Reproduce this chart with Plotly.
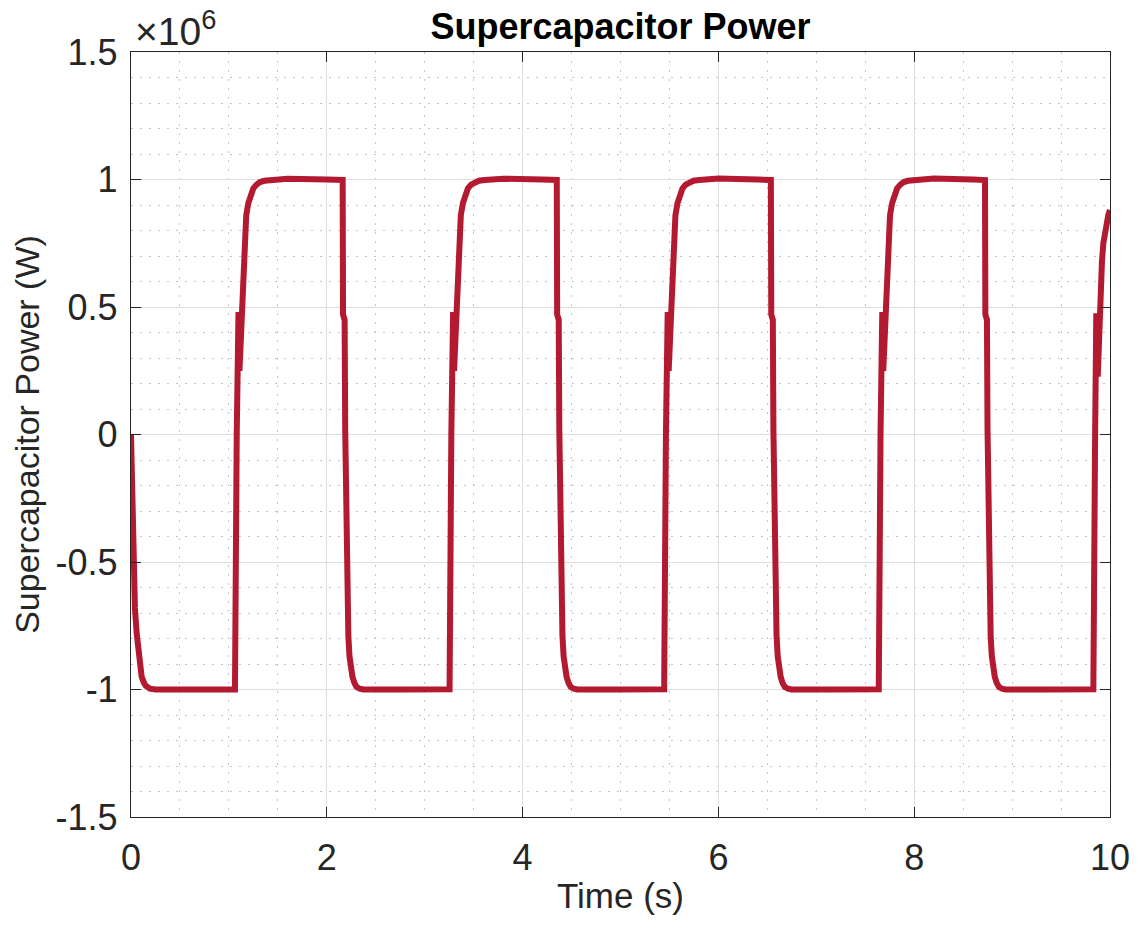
import plotly.graph_objects as go

# ---- data (power in units of 1e6 W) ----
time_s = [
    # start: decay from 0 to -1
    0.000, 0.008, 0.016, 0.024, 0.032, 0.040, 0.058, 0.080, 0.095, 0.109, 0.130, 0.150, 0.194, 0.250, 0.600, 1.000,
    # rise 1
    1.062, 1.080, 1.098, 1.108, 1.122, 1.131, 1.141, 1.147, 1.155, 1.164, 1.177, 1.198, 1.222, 1.249, 1.282, 1.318, 1.362, 1.420, 1.600, 2.000,
    # fall 1
    2.162, 2.166, 2.182, 2.188, 2.195, 2.203, 2.212, 2.220, 2.232, 2.244, 2.262, 2.282, 2.305, 2.337, 2.372, 2.800,
    # rise 2
    3.254, 3.272, 3.290, 3.300, 3.314, 3.323, 3.333, 3.339, 3.347, 3.356, 3.369, 3.390, 3.414, 3.441, 3.474, 3.510, 3.554, 3.612, 3.800, 4.200,
    # fall 2
    4.349, 4.353, 4.369, 4.375, 4.382, 4.390, 4.399, 4.407, 4.419, 4.431, 4.449, 4.469, 4.492, 4.524, 4.559, 5.000,
    # rise 3
    5.446, 5.464, 5.482, 5.492, 5.506, 5.515, 5.525, 5.531, 5.539, 5.548, 5.561, 5.582, 5.606, 5.633, 5.666, 5.702, 5.746, 5.804, 6.000, 6.400,
    # fall 3
    6.536, 6.540, 6.556, 6.562, 6.569, 6.577, 6.586, 6.594, 6.606, 6.618, 6.636, 6.656, 6.679, 6.711, 6.746, 7.200,
    # rise 4
    7.638, 7.656, 7.674, 7.684, 7.698, 7.707, 7.717, 7.723, 7.731, 7.740, 7.753, 7.774, 7.798, 7.825, 7.858, 7.894, 7.938, 7.996, 8.200, 8.600,
    # fall 4
    8.723, 8.727, 8.743, 8.749, 8.756, 8.764, 8.773, 8.781, 8.793, 8.805, 8.823, 8.843, 8.866, 8.898, 8.933, 9.400,
    # rise 5 (cut at 10 s)
    9.830, 9.848, 9.860, 9.875, 9.890, 9.905, 9.918, 9.932, 9.948, 9.966, 9.983, 10.000,
]
power_mw = [
    0.000, -0.200, -0.360, -0.490, -0.600, -0.680, -0.780, -0.880, -0.925, -0.950, -0.972, -0.985, -0.997, -1.000, -1.000, -0.999,
    -1.000, 0.000, 0.480, 0.250, 0.400, 0.500, 0.606, 0.684, 0.750, 0.815, 0.860, 0.907, 0.940, 0.965, 0.980, 0.990, 0.995, 0.998, 1.003, 1.000,
    0.998, 0.470, 0.450, 0.020, -0.250, -0.490, -0.660, -0.790, -0.870, -0.910, -0.950, -0.975, -0.990, -0.997, -1.000, -1.000,
    -0.999, 0.000, 0.480, 0.250, 0.400, 0.500, 0.606, 0.684, 0.750, 0.815, 0.860, 0.907, 0.940, 0.965, 0.980, 0.990, 0.995, 0.998, 1.003, 1.000,
    0.998, 0.470, 0.450, 0.020, -0.250, -0.490, -0.660, -0.790, -0.870, -0.910, -0.950, -0.975, -0.990, -0.997, -1.000, -1.000,
    -0.999, 0.000, 0.480, 0.250, 0.400, 0.500, 0.606, 0.684, 0.750, 0.815, 0.860, 0.907, 0.940, 0.965, 0.980, 0.990, 0.995, 0.998, 1.004, 1.000,
    0.998, 0.470, 0.450, 0.020, -0.250, -0.490, -0.660, -0.790, -0.870, -0.910, -0.950, -0.975, -0.990, -0.997, -1.000, -1.000,
    -0.999, 0.000, 0.480, 0.250, 0.400, 0.500, 0.606, 0.684, 0.750, 0.815, 0.860, 0.907, 0.940, 0.965, 0.980, 0.990, 0.995, 0.998, 1.004, 1.000,
    0.998, 0.470, 0.450, 0.020, -0.250, -0.490, -0.660, -0.790, -0.870, -0.910, -0.950, -0.975, -0.990, -0.997, -1.000, -1.000,
    -0.999, 0.000, 0.475, 0.227, 0.420, 0.593, 0.680, 0.750, 0.800, 0.840, 0.862, 0.880,
]

x_tick_vals = [0, 2, 4, 6, 8, 10]
x_tick_text = ["0", "2", "4", "6", "8", "10"]
y_tick_vals = [-1.5, -1.0, -0.5, 0.0, 0.5, 1.0, 1.5]
y_tick_text = ["-1.5", "-1", "-0.5", "0", "0.5", "1", "1.5"]

FONT = "Liberation Sans, Arial, Helvetica, sans-serif"
TXT = "#262626"
LINE_COLOR = "#B3192F"

FIG_W, FIG_H = 1139, 929

fig = go.Figure()
fig.add_trace(go.Scatter(
    x=time_s, y=power_mw, mode="lines",
    line=dict(color=LINE_COLOR, width=6),
    showlegend=False, hoverinfo="x+y",
))

axis_common = dict(
    showline=True, linecolor=TXT, linewidth=1.3, mirror="ticks",
    ticks="inside", ticklen=10, tickwidth=1.3, tickcolor=TXT,
    showgrid=True, gridcolor="#dedede", gridwidth=1.3,
    zeroline=False,
    tickfont=dict(family=FONT, size=36, color=TXT),
    automargin=False,
)

fig.update_xaxes(
    range=[0, 10], tickmode="array", tickvals=x_tick_vals, ticktext=x_tick_text,
    minor=dict(dtick=0.5, showgrid=True, gridcolor="#c4c4c4", griddash="2px,7px", gridwidth=1.3, ticks=""),
    title=dict(text="Time (s)", font=dict(family=FONT, size=35, color=TXT), standoff=6),
    ticklabelstandoff=9,
    **axis_common,
)
fig.update_yaxes(
    range=[-1.5, 1.5], tickmode="array", tickvals=y_tick_vals, ticktext=y_tick_text,
    minor=dict(dtick=0.1, showgrid=True, gridcolor="#c4c4c4", griddash="2px,7px", gridwidth=1.3, ticks=""),
    title=dict(text="Supercapacitor Power (W)", font=dict(family=FONT, size=34, color=TXT), standoff=5),
    ticklabelstandoff=5,
    **axis_common,
)

fig.update_layout(
    width=FIG_W, height=FIG_H,
    margin=dict(l=131, r=29, t=52, b=112, pad=0),
    paper_bgcolor="white", plot_bgcolor="white",
    title=dict(
        text="Supercapacitor Power",
        font=dict(family=FONT, size=36, color="black", weight="bold"),
        x=(131 + 1110) / 2 / FIG_W, xanchor="center", xref="container",
        y=1 - 26 / FIG_H, yref="container", yanchor="middle",
    ),
    annotations=[dict(
        text="×10<sup>6</sup>", xref="paper", yref="paper",
        x=0, y=1, xanchor="left", yanchor="bottom", showarrow=False,
        xshift=2, yshift=-3,
        font=dict(family=FONT, size=39, color=TXT),
    )],
)

# remove the browser's default 8 px body margin so the figure fills the window
fig.write_html(
    "out.html",
    config={"displayModeBar": False},
    post_script="document.body.style.margin='0';",
)
